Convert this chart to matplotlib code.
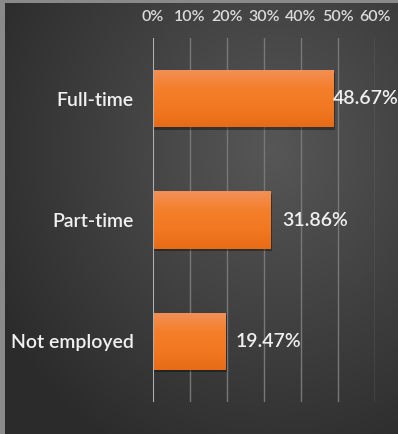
import numpy as np
import matplotlib.pyplot as plt
from matplotlib.colors import LinearSegmentedColormap
from matplotlib.patches import Rectangle

# Employment status shares (percent)
categories = ['Full-time', 'Part-time', 'Not employed']
shares = [48.67, 31.86, 19.47]
tick_values = [0, 10, 20, 30, 40, 50, 60]
tick_labels = ['0%', '10%', '20%', '30%', '40%', '50%', '60%']

W, H = 398, 434
fig = plt.figure(figsize=(W / 100, H / 100), dpi=100)
plt.rcParams['font.family'] = ['Lato', 'DejaVu Sans']

# dark radial background
bg = fig.add_axes([0, 0, 1, 1])
yy, xx = np.mgrid[0:H, 0:W]
r = np.hypot((xx - 270) / 330.0, (yy - 150) / 360.0)
shade = np.clip(0.34 - 0.18 * r, 0.17, 0.34)
bg.imshow(np.dstack([shade, shade, shade]), extent=[0, W, H, 0], aspect='auto')
bg.add_patch(Rectangle((0, 0), 5, H, color='#8a8a8a', lw=0))
bg.add_patch(Rectangle((0, 0), W, 3, color='#8a8a8a', lw=0))
bg.set_xlim(0, W)
bg.set_ylim(H, 0)
bg.axis('off')

ax = fig.add_axes([153 / W, 1 - 402 / H, 222 / W, 364 / H])
ax.patch.set_alpha(0)

for v in tick_values[1:]:
    ax.axvline(v, color='#787878', lw=1, zorder=1)
ax.axvline(0, color='#b0b0b0', lw=1.5, zorder=4)

orange = LinearSegmentedColormap.from_list(
    'bar', ['#f29058', '#f47f2a', '#f27821', '#e86c17'])
grad = np.linspace(0, 1, 64).reshape(-1, 1)
bar_h = 0.47
label_pad = [0, 11, 11]
for i, (cat, val) in enumerate(zip(categories, shares)):
    # soft shadow under the bar
    ax.add_patch(Rectangle((0, i - bar_h / 2 + 0.02), val + 0.4, bar_h,
                           color='black', alpha=0.35, lw=0, zorder=2))
    rect = Rectangle((0, i - bar_h / 2), val, bar_h, facecolor='none', lw=0, zorder=3)
    ax.add_patch(rect)
    im = ax.imshow(grad, cmap=orange, aspect='auto', zorder=3,
                   extent=[0, val, i + bar_h / 2, i - bar_h / 2])
    im.set_clip_path(rect)
    ax.annotate(f'{val:.2f}%', (val, i), xytext=(label_pad[i], 0),
                textcoords='offset pixels', va='center', ha='left',
                color='#f0f0f0', fontsize=14, fontweight='semibold',
                annotation_clip=False, zorder=5)

ax.set_xlim(0, 60)
ax.set_ylim(len(categories) - 0.5, -0.5)
ax.set_yticks(range(len(categories)))
ax.set_yticklabels(categories, fontsize=14, color='#f0f0f0', fontweight='semibold')
ax.xaxis.tick_top()
ax.set_xticks(tick_values)
ax.set_xticklabels(tick_labels, fontsize=11.5, color='#dadada', fontweight='semibold')
ax.tick_params(axis='x', length=0, pad=10)
ax.tick_params(axis='y', length=0, pad=14)
for s in ax.spines.values():
    s.set_visible(False)

fig.savefig('out.png', dpi=100)
